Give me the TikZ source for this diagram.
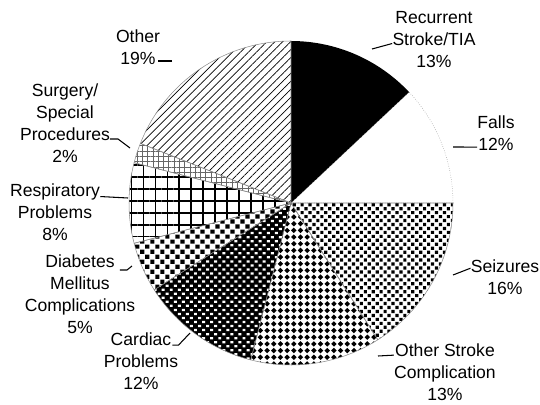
\documentclass[tikz,border=0pt]{standalone}
\usepackage{fontspec}
\setmainfont{Liberation Sans}
\usepackage{tikz}
\usetikzlibrary{patterns, patterns.meta, positioning}

% fill patterns for the wedges
\pgfdeclarepatternformonly{seizDots}{\pgfqpoint{-0.5pt}{-0.5pt}}{\pgfqpoint{5pt}{5pt}}{\pgfqpoint{4.5pt}{4.5pt}}{%
  \pgfpathrectangle{\pgfqpoint{0pt}{0pt}}{\pgfqpoint{1.8pt}{1.8pt}}%
  \pgfpathrectangle{\pgfqpoint{2.25pt}{2.25pt}}{\pgfqpoint{1.8pt}{1.8pt}}%
  \pgfusepath{fill}}
\pgfdeclarepatternformonly{strokeDiam}{\pgfqpoint{-2pt}{-2pt}}{\pgfqpoint{5pt}{5pt}}{\pgfqpoint{3.8pt}{3.8pt}}{%
  \pgfpathmoveto{\pgfqpoint{1.55pt}{0pt}}%
  \pgfpathlineto{\pgfqpoint{0pt}{1.55pt}}%
  \pgfpathlineto{\pgfqpoint{-1.55pt}{0pt}}%
  \pgfpathlineto{\pgfqpoint{0pt}{-1.55pt}}%
  \pgfpathclose
  \pgfusepath{fill}}
\pgfdeclarepatternformonly{cardDots}{\pgfqpoint{-0.5pt}{-0.5pt}}{\pgfqpoint{5pt}{5pt}}{\pgfqpoint{4.6pt}{4.6pt}}{%
  \pgfpathrectangle{\pgfqpoint{0pt}{0pt}}{\pgfqpoint{1.7pt}{1.3pt}}%
  \pgfpathrectangle{\pgfqpoint{2.3pt}{2.3pt}}{\pgfqpoint{1.7pt}{1.3pt}}%
  \pgfusepath{fill}}
\pgfdeclarepatternformonly{diabSquares}{\pgfqpoint{-0.5pt}{-0.5pt}}{\pgfqpoint{6pt}{6pt}}{\pgfqpoint{5.7pt}{5.7pt}}{%
  \pgfpathrectangle{\pgfqpoint{0pt}{0pt}}{\pgfqpoint{2.4pt}{2.4pt}}%
  \pgfpathrectangle{\pgfqpoint{2.85pt}{2.85pt}}{\pgfqpoint{2.4pt}{2.4pt}}%
  \pgfusepath{fill}}

\begin{document}
\begin{tikzpicture}[
  wedge/.style={draw=black!45, line width=0.3pt},
  lbl/.style={font=\fontsize{10}{12.5}\selectfont, align=center, inner sep=0pt},
  lead/.style={line width=0.6pt}
]
  \useasboundingbox (-5.82,-4.02) rectangle (4.98,4.06);
  \def\R{3.24}
  \coordinate (c) at (0,0);

  % Wedges, clockwise from the top
  \fill[black] (c) -- ++(90:\R) arc[start angle=90, end angle=43.2, radius=\R] -- cycle;
  \draw[wedge, densely dotted] (c) -- ++(43.2:\R) arc[start angle=43.2, end angle=0, radius=\R] -- cycle;
  \draw[wedge, pattern=seizDots] (c) -- ++(0:\R) arc[start angle=0, end angle=-57.6, radius=\R] -- cycle;
  \draw[wedge, pattern=strokeDiam] (c) -- ++(-57.6:\R) arc[start angle=-57.6, end angle=-104.4, radius=\R] -- cycle;
  \draw[wedge, preaction={fill=black}, pattern=cardDots, pattern color=white] (c) -- ++(-104.4:\R) arc[start angle=-104.4, end angle=-147.6, radius=\R] -- cycle;
  \draw[wedge, pattern=diabSquares] (c) -- ++(-147.6:\R) arc[start angle=-147.6, end angle=-165.6, radius=\R] -- cycle;
  \draw[wedge, pattern={Hatch[distance=6.8pt, line width=0.9pt]}] (c) -- ++(-165.6:\R) arc[start angle=-165.6, end angle=-194.4, radius=\R] -- cycle;
  \draw[wedge, pattern={Hatch[distance=3pt, line width=0.25pt]}, pattern color=black!60] (c) -- ++(-194.4:\R) arc[start angle=-194.4, end angle=-201.6, radius=\R] -- cycle;
  \draw[wedge, pattern={Lines[angle=45, distance=3.2pt, line width=0.4pt]}] (c) -- ++(-201.6:\R) arc[start angle=-201.6, end angle=-270, radius=\R] -- cycle;

  % Labels
  \node[lbl] (rec) at (2.86,3.26) {Recurrent\\Stroke/TIA\\13\%};
  \node[lbl] (fal) at (4.10,1.40) {Falls\\12\%};
  \node[lbl] (sei) at (4.28,-1.48) {Seizures\\16\%};
  \node[lbl] (ost) at (3.08,-3.38) {Other Stroke\\Complication\\13\%};
  \node[lbl] (car) at (-3.00,-3.16) {Cardiac\\Problems\\12\%};
  \node[lbl] (dia) at (-4.22,-1.82) {Diabetes\\Mellitus\\Complications\\5\%};
  \node[lbl] (res) at (-4.72,-0.18) {Respiratory\\Problems\\8\%};
  \node[lbl] (sur) at (-4.52,1.60) {Surgery/\\Special\\Procedures\\2\%};
  \node[lbl] (oth) at (-3.06,3.12) {Other\\19\%};

  % Leader feet next to the pie
  \coordinate (rec-p) at (1.62,3.08);
  \coordinate (fal-p) at (3.24,1.12);
  \coordinate (sei-p) at (3.24,-1.44);
  \coordinate (ost-p) at (1.74,-3.06);
  \coordinate (car-p) at (-2.02,-2.60);
  \coordinate (dia-p) at (-3.18,-1.26);
  \coordinate (res-p) at (-3.26,0.10);
  \coordinate (sur-p) at (-3.22,1.10);
  \coordinate (oth-p) at (-2.38,2.84);

  \draw[lead] (rec-p) -- ([yshift=-2pt]rec.west);
  \draw[lead] (fal-p) -- ([yshift=-8pt]fal.west);
  \draw[lead] (sei-p) -- ([yshift=5pt]sei.west);
  \draw[lead] (ost-p) -- ([yshift=9.6pt]ost.west);
  \draw[lead] (car-p) -- ([yshift=9pt]car.east) -- ++(-0.12,0);
  \draw[lead] (dia-p) -- ++(-0.1,-0.08) -- ++(-0.14,0);
  \draw[lead] (res-p) -- ([yshift=8.8pt]res.east);
  \draw[lead] (sur-p) -- ++(-0.24,0.18) -- ++(-0.16,0);
  \draw[lead] (oth-p) -- ++(-0.28,0);
\end{tikzpicture}
\end{document}
